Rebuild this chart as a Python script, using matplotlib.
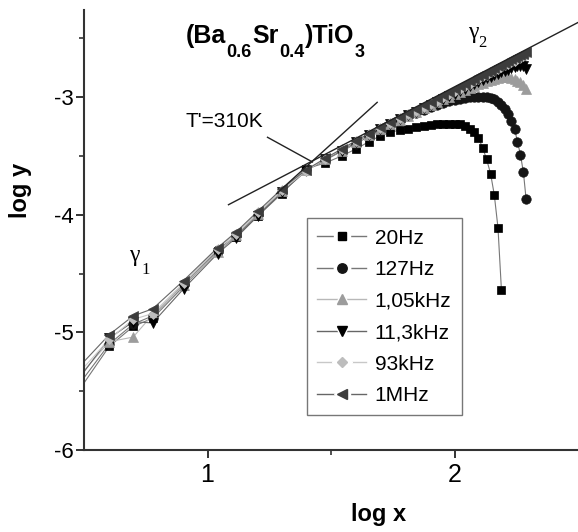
import matplotlib
matplotlib.use("Agg")
import matplotlib.pyplot as plt
from matplotlib.lines import Line2D
from matplotlib.legend_handler import HandlerTuple

plt.rcParams["font.family"] = ["Liberation Sans", "DejaVu Sans"]

# log of the field variable, shared by every frequency
log_x = [0.477, 0.602, 0.699, 0.778, 0.903, 1.041, 1.114, 1.204, 1.301,
         1.398, 1.477, 1.544, 1.602, 1.653, 1.699, 1.740, 1.778, 1.813,
         1.845, 1.875, 1.903, 1.929, 1.954, 1.978, 2.000, 2.021, 2.041,
         2.061, 2.079, 2.097, 2.114, 2.130, 2.146, 2.161, 2.176, 2.190,
         2.204, 2.217, 2.230, 2.243, 2.255, 2.267, 2.279, 2.290]

y_20hz = [-5.50, -5.12, -4.95, -4.88, -4.61, -4.31, -4.19, -4.01, -3.82,
          -3.61, -3.56, -3.50, -3.44, -3.38, -3.33, -3.30, -3.28, -3.27,
          -3.255, -3.245, -3.235, -3.23, -3.225, -3.225, -3.225,
          -3.23, -3.245, -3.27, -3.30, -3.35, -3.43, -3.53, -3.65, -3.83,
          -4.11, -4.64]

y_127hz = [-5.45, -5.10, -4.93, -4.86, -4.59, -4.30, -4.18, -4.00, -3.81,
           -3.62, -3.535, -3.46, -3.395, -3.335, -3.285, -3.24, -3.20, -3.165,
           -3.135, -3.11, -3.085, -3.065, -3.048, -3.035, -3.025, -3.015,
           -3.008, -3.003, -3.0, -2.998, -2.998, -3.0, -3.008, -3.02, -3.04,
           -3.065, -3.10, -3.14, -3.20, -3.27, -3.38, -3.49, -3.64, -3.87]

y_1k05 = [-5.38, -5.08, -5.04, -4.85, -4.60, -4.32, -4.17, -3.99, -3.80,
          -3.62, -3.53, -3.455, -3.385, -3.325, -3.275, -3.232, -3.195, -3.16,
          -3.125, -3.095, -3.07, -3.045, -3.02, -2.998, -2.978, -2.958,
          -2.94, -2.922, -2.905, -2.89, -2.877, -2.865, -2.855, -2.845,
          -2.838, -2.832, -2.83, -2.83, -2.835, -2.845, -2.86, -2.875,
          -2.90, -2.93]

y_11k3 = [-5.40, -5.05, -4.91, -4.92, -4.63, -4.33, -4.20, -4.01, -3.81,
          -3.63, -3.53, -3.455, -3.38, -3.32, -3.27, -3.228, -3.19, -3.155,
          -3.125, -3.095, -3.067, -3.04, -3.015, -2.99, -2.97, -2.95,
          -2.93, -2.91, -2.89, -2.873, -2.857, -2.842, -2.828, -2.815,
          -2.802, -2.79, -2.778, -2.767, -2.757, -2.748, -2.74, -2.735,
          -2.738, -2.76]

y_93k = [-5.35, -5.06, -4.89, -4.84, -4.58, -4.29, -4.16, -3.98, -3.79,
         -3.63, -3.525, -3.445, -3.375, -3.315, -3.262, -3.22, -3.18, -3.147,
         -3.115, -3.085, -3.055, -3.03, -3.0, -2.975, -2.95, -2.93,
         -2.905, -2.885, -2.865, -2.845, -2.825, -2.81, -2.79, -2.775,
         -2.76, -2.745, -2.73, -2.715, -2.70, -2.69, -2.675, -2.665,
         -2.655, -2.645]

y_1m = [-5.30, -5.02, -4.86, -4.80, -4.56, -4.28, -4.15, -3.97, -3.78,
        -3.62, -3.52, -3.44, -3.37, -3.31, -3.255, -3.212, -3.172, -3.138,
        -3.10, -3.07, -3.04, -3.01, -2.985, -2.96, -2.935, -2.91,
        -2.89, -2.865, -2.845, -2.825, -2.81, -2.79, -2.775, -2.755,
        -2.74, -2.725, -2.71, -2.695, -2.68, -2.665, -2.655, -2.64,
        -2.63, -2.615]

labels = ["20Hz", "127Hz", "1,05kHz", "11,3kHz", "93kHz", "1MHz"]
series = [y_20hz, y_127hz, y_1k05, y_11k3, y_93k, y_1m]

# straight-line fits for the two regimes (gamma_1 and gamma_2)
fit1_x = [1.28, 1.687]
fit1_y = [-3.82, -3.045]
fit2_x = [1.085, 2.5]
fit2_y = [-3.915, -2.366]
# pointer from the T' label to the crossing point
pointer_x = [1.243, 1.425]
pointer_y = [-3.342, -3.552]

# formula pieces: (text, is_subscript)
formula = [("(Ba", False), ("0.6", True), ("Sr", False), ("0.4", True),
           (")TiO", False), ("3", True)]

styles = [
    dict(marker="s", color="#000000", ms=6.0, lc="#777777"),
    dict(marker="o", color="#151515", ms=6.8, lc="#777777"),
    dict(marker="^", color="#9c9c9c", ms=6.8, lc="#b8b8b8"),
    dict(marker="v", color="#000000", ms=6.8, lc="#666666"),
    dict(marker="D", color="#bdbdbd", ms=5.0, lc="#c8c8c8"),
    dict(marker="<", color="#3c3c3c", ms=6.8, lc="#666666"),
]

W, H = 578, 532
fig = plt.figure(figsize=(W / 100, H / 100), dpi=100)
ax = fig.add_axes([84 / W, 82 / H, 494 / W, 440 / H])

handles = []
for y, st, lab in zip(series, styles, labels):
    ax.plot(log_x[:len(y)], y, color=st["lc"], lw=0.8, zorder=2)
    ax.plot(log_x[:len(y)], y, ls="none", marker=st["marker"],
            ms=st["ms"], mfc=st["color"], mec=st["color"], mew=0.5,
            zorder=3)
    # legend glyph: line, white halo, marker -> gap around the marker
    h_line = Line2D([], [], color=st["lc"], lw=1.0)
    h_halo = Line2D([], [], ls="none", marker=st["marker"],
                    ms=st["ms"] + 5, mfc="white", mec="white")
    h_mark = Line2D([], [], ls="none", marker=st["marker"], ms=st["ms"],
                    mfc=st["color"], mec=st["color"])
    handles.append((h_line, h_halo, h_mark))

ax.plot(fit1_x, fit1_y, color="#222222", lw=1.0, zorder=4)
ax.plot(fit2_x, fit2_y, color="#222222", lw=1.0, zorder=4)
ax.plot(pointer_x, pointer_y, color="#222222", lw=1.0, zorder=4)

ax.set_xlim(0.5, 2.5)
ax.set_ylim(-6, -2.26)
ax.set_xticks([1, 2])
ax.set_xticks([1.5], minor=True)
ax.set_yticks([-6, -5, -4, -3])
ax.set_yticks([-5.5, -4.5, -3.5, -2.5], minor=True)
ax.set_xticklabels(["1", "2"])
ax.set_yticklabels(["-6", "-5", "-4", "-3"])

for side in ["top", "right"]:
    ax.spines[side].set_visible(False)
for side in ["left", "bottom"]:
    ax.spines[side].set_linewidth(1.5)
    ax.spines[side].set_color("#333333")
ax.tick_params(which="major", direction="out", length=6, width=1.4,
               color="#333333")
ax.tick_params(which="minor", direction="out", length=3.5, width=1.2,
               color="#333333")
ax.tick_params(axis="y", pad=1.5, labelsize=16)
ax.tick_params(axis="x", pad=3, labelsize=18)

fig.text(20 / W, 1 - 190 / H, "log y", rotation=90, ha="center",
         va="center", fontsize=17, fontweight="bold")
fig.text(379 / W, 1 - 514 / H, "log x", ha="center", va="center",
         fontsize=17, fontweight="bold")

# chemical formula, subscripts set well below the baseline
renderer = fig.canvas.get_renderer()
px = 186
for s, sub in formula:
    base = 43 + (14 if sub else 0)
    t = fig.text(px / W, 1 - base / H, s, ha="left", va="baseline",
                 fontsize=13 if sub else 18, fontweight="bold")
    px = t.get_window_extent(renderer).x1 + (1 if sub else 0)

ax.text(0.2045, 0.734, "T'=310K", transform=ax.transAxes, ha="left",
        va="baseline", fontsize=15)

serif = ["Liberation Serif", "DejaVu Serif"]
ax.text(0.101, 0.441, "\u03b3", transform=ax.transAxes, ha="center",
        va="center", fontsize=17, family=serif)
ax.text(0.124, 0.409, "1", transform=ax.transAxes, ha="center",
        va="center", fontsize=12, family=serif)
ax.text(0.787, 0.948, "\u03b3", transform=ax.transAxes, ha="center",
        va="center", fontsize=17, family=serif)
ax.text(0.806, 0.926, "2", transform=ax.transAxes, ha="center",
        va="center", fontsize=12, family=serif)

leg = ax.legend(handles, labels, handler_map={tuple: HandlerTuple(ndivide=1)},
                loc="upper left", bbox_to_anchor=(0.451, 0.527),
                borderaxespad=0, fontsize=15, numpoints=1, handlelength=2.35,
                handletextpad=0.4, labelspacing=0.6, borderpad=0.5,
                fancybox=False, frameon=True)
leg.get_frame().set_edgecolor("#555555")
leg.get_frame().set_linewidth(1.0)

fig.savefig("out.png", dpi=100)
